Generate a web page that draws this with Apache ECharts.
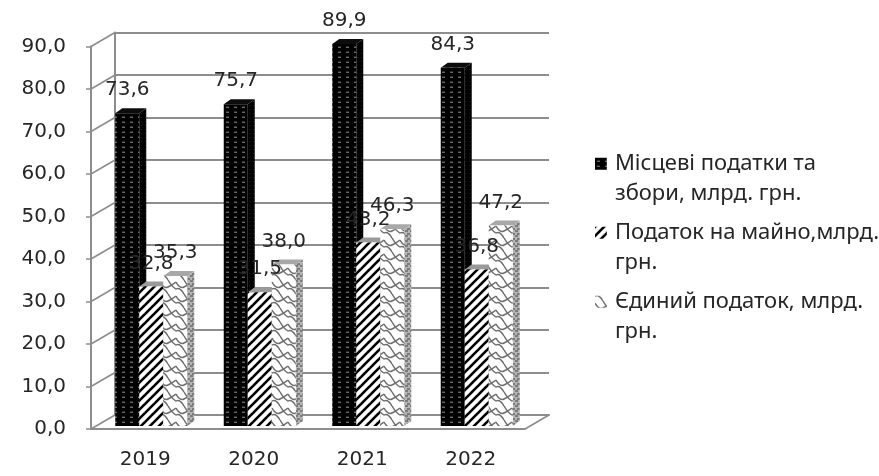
<!DOCTYPE html>
<html>
<head>
<meta charset="utf-8">
<style>html,body{margin:0;padding:0;background:#fff}#chart{width:879px;height:476px}</style>
<script src="https://cdn.jsdelivr.net/npm/echarts@6/dist/echarts.min.js"></script>
</head>
<body>
<div id="chart"></div>
<script>
const years = ['2019', '2020', '2021', '2022'];
const seriesNames = [
  'Місцеві податки та\nзбори, млрд. грн.',
  'Податок на майно,млрд.\nгрн.',
  'Єдиний податок, млрд.\nгрн.'
];
const localTaxes = [73.6, 75.7, 89.9, 84.3];
const propertyTax = [32.8, 31.5, 43.2, 36.8];
const singleTax = [35.3, 38.0, 46.3, 47.2];
const axisTicks = [0, 10, 20, 30, 40, 50, 60, 70, 80, 90];

const LINE = '#8d8d8d';
const TEXT = '#262626';
const NUM_FAMILY = 'DejaVu Sans';
const NUM_SIZE = 20;
const WALL = { dx: 24, dy: -14 };
const BAR = { w: 24, dx: 7, dy: -5, liftY: 3, starts: [-30, -6, 18] };
const FRONT = { left: 91, width: 434, top: 46.5, height: 382.5 };

function tile(w, h, paint) {
  const c = document.createElement('canvas');
  c.width = w; c.height = h;
  paint(c.getContext('2d'), w, h);
  return { image: c, repeat: 'repeat' };
}

// Fill textures for the three columns and their shaded sides
const dotted = tile(8, 5, (g, w, h) => {
  g.fillStyle = '#000'; g.fillRect(0, 0, w, h);
  g.fillStyle = '#6a6a6a'; g.fillRect(2, 2, 3, 1);
  g.fillStyle = '#2e2e2e'; g.fillRect(2, 1, 3, 1);
});
const dottedDark = tile(4, 4, (g, w, h) => {
  g.fillStyle = '#000'; g.fillRect(0, 0, w, h);
  g.fillStyle = '#1c1c1c'; g.fillRect(1, 1, 1, 1);
});
const striped = tile(9, 9, (g, w, h) => {
  g.fillStyle = '#fff'; g.fillRect(0, 0, w, h);
  g.strokeStyle = '#000'; g.lineWidth = 2.6;
  [-9, 0, 9].forEach(o => {
    g.beginPath(); g.moveTo(o - 1, h + 1); g.lineTo(o + w + 1, -1); g.stroke();
  });
});
const stripedSide = tile(4, 4, (g, w, h) => {
  g.fillStyle = '#8a8a8a'; g.fillRect(0, 0, w, h);
  g.fillStyle = '#333'; g.fillRect(0, 0, 2, 2);
});
const scales = tile(16, 14, (g, w, h) => {
  g.fillStyle = '#fff'; g.fillRect(0, 0, w, h);
  g.strokeStyle = '#6f6f6f'; g.lineWidth = 1.5;
  g.beginPath();
  g.moveTo(0, 2); g.quadraticCurveTo(4, 9, 8, 7); g.quadraticCurveTo(12, 5, 16, 2);
  g.moveTo(0, 9); g.quadraticCurveTo(4, 7, 8, 14); g.moveTo(8, 0); g.quadraticCurveTo(12, 7, 16, 9);
  g.stroke();
});
const scalesSide = tile(5, 5, (g, w, h) => {
  g.fillStyle = '#b4b4b4'; g.fillRect(0, 0, w, h);
  g.fillStyle = '#7c7c7c'; g.fillRect(0, 0, 3, 2); g.fillRect(2, 3, 3, 2);
});

const faces = [
  { front: dotted, side: dottedDark, top: '#0c0c0c' },
  { front: striped, side: stripedSide, top: '#9a9a9a' },
  { front: scales, side: scalesSide, top: '#a8a8a8' }
];

const fmt = v => v.toFixed(1).replace('.', ',');

// Prism with front, side and top faces plus its value label
function prism(seriesIndex) {
  return function (params, api) {
    const cat = api.value(0), val = api.value(1);
    const p = api.coord([cat, val]);
    const z = api.coord([cat, 0]);
    const l = p[0] + BAR.starts[seriesIndex];
    const r = l + BAR.w;
    const t = p[1] - BAR.liftY;
    const b = z[1] - BAR.liftY;
    const f = faces[seriesIndex];
    return {
      type: 'group',
      children: [
        { type: 'polygon', shape: { points: [[r, t], [r + BAR.dx, t + BAR.dy], [r + BAR.dx, b + BAR.dy], [r, b]] }, style: { fill: f.side } },
        { type: 'polygon', shape: { points: [[l, t], [l + BAR.dx, t + BAR.dy], [r + BAR.dx, t + BAR.dy], [r, t]] }, style: { fill: f.top } },
        { type: 'rect', shape: { x: l, y: t, width: BAR.w, height: b - t }, style: { fill: f.front } },
        { type: 'text', z2: 20, style: { x: (l + r) / 2, y: t - 23, text: fmt(val), align: 'center', verticalAlign: 'middle', fontFamily: NUM_FAMILY, fontSize: NUM_SIZE, fill: TEXT } }
      ]
    };
  };
}

function barSeries(i, values) {
  return {
    type: 'custom',
    name: seriesNames[i],
    xAxisIndex: 0,
    yAxisIndex: 0,
    z: 3,
    renderItem: prism(i),
    encode: { x: 0, y: 1 },
    data: values.map((v, c) => [c, v])
  };
}

// Slanted lines of the left wall and the floor edge
const wallSeries = {
  type: 'custom',
  xAxisIndex: 0,
  yAxisIndex: 0,
  z: 2,
  silent: true,
  renderItem(params, api) {
    const y = api.coord([0, api.value(0)])[1];
    const x0 = params.coordSys.x;
    const children = [{
      type: 'line',
      shape: { x1: x0, y1: y, x2: x0 + WALL.dx, y2: y + WALL.dy },
      style: { stroke: LINE, lineWidth: 1.6 }
    }];
    if (api.value(0) === 0) {
      const xr = x0 + params.coordSys.width;
      children.push({
        type: 'line',
        shape: { x1: xr, y1: y, x2: xr + WALL.dx, y2: y + WALL.dy },
        style: { stroke: LINE, lineWidth: 1.6 }
      });
    }
    return { type: 'group', children };
  },
  encode: { y: 0 },
  data: axisTicks.map(v => [v])
};

function markerPath() {
  // Square beside the first text line, kept in a tall box spanning both lines
  return 'path://M0 0h.01v.01H0z M0 9h12v12H0z M12 60h.01v.01h-.01z';
}

const legendStyles = [dotted, striped, scales];

const option = {
  animation: false,
  backgroundColor: '#fff',
  grid: [
    { left: FRONT.left, top: FRONT.top, width: FRONT.width, height: FRONT.height },
    { left: FRONT.left + WALL.dx, top: FRONT.top + WALL.dy, width: FRONT.width, height: FRONT.height }
  ],
  xAxis: [
    {
      type: 'category', gridIndex: 0, data: years,
      axisLine: { lineStyle: { color: LINE, width: 2 } },
      axisTick: { length: 7, lineStyle: { color: LINE, width: 1.5 } },
      axisLabel: { margin: 21, fontFamily: NUM_FAMILY, fontSize: NUM_SIZE, color: TEXT }
    },
    {
      type: 'category', gridIndex: 1, data: years,
      axisLine: { lineStyle: { color: LINE, width: 2 } },
      axisTick: { show: false }, axisLabel: { show: false }
    }
  ],
  yAxis: [
    {
      type: 'value', gridIndex: 0, min: 0, max: 90, interval: 10,
      axisLine: { show: true, lineStyle: { color: LINE, width: 2 } },
      axisTick: { show: true, length: 5, lineStyle: { color: LINE, width: 1.5 } },
      axisLabel: { margin: 25, padding: [3, 0, 0, 0], fontFamily: NUM_FAMILY, fontSize: NUM_SIZE, color: TEXT, formatter: v => fmt(v) },
      splitLine: { show: false }
    },
    {
      type: 'value', gridIndex: 1, min: 0, max: 90, interval: 10,
      axisLine: { show: true, lineStyle: { color: LINE, width: 2 } },
      axisTick: { show: false }, axisLabel: { show: false },
      splitLine: { show: true, lineStyle: { color: LINE, width: 2 } }
    }
  ],
  legend: {
    orient: 'vertical',
    left: 595,
    top: 149,
    padding: 0,
    itemWidth: 12,
    itemHeight: 59,
    itemGap: 10,
    selectedMode: false,
    textStyle: { fontFamily: 'Noto Sans', fontSize: 22, lineHeight: 29.5, color: TEXT, padding: [0, 0, 0, 3] },
    data: seriesNames.map((name, i) => ({
      name, icon: markerPath(), itemStyle: { color: legendStyles[i] }
    }))
  },
  series: [
    wallSeries,
    barSeries(0, localTaxes),
    barSeries(1, propertyTax),
    barSeries(2, singleTax)
  ]
};

const chart = echarts.init(document.getElementById('chart'), null, { renderer: 'canvas' });
chart.setOption(option);
</script>
</body>
</html>
